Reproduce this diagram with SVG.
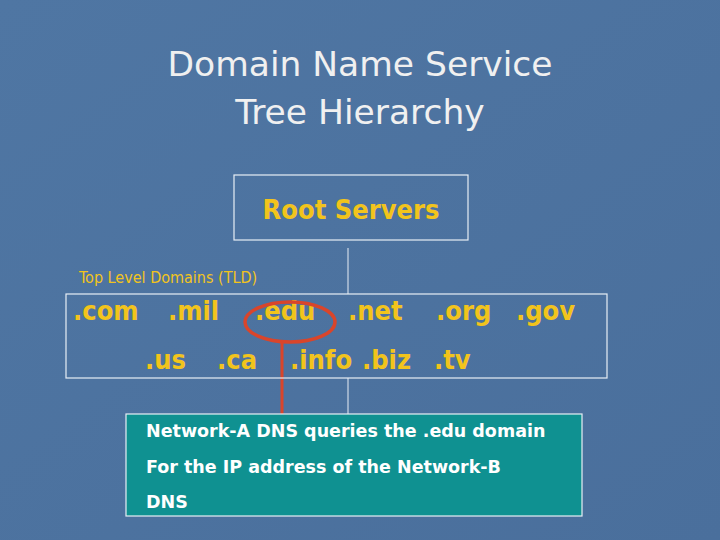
<svg xmlns="http://www.w3.org/2000/svg" width="720" height="540" viewBox="0 0 720 540">
<defs>
<linearGradient id="bg" x1="0" y1="0" x2="1" y2="1"><stop offset="0" stop-color="#4f76a3"/><stop offset="1" stop-color="#4a6f9c"/></linearGradient>
<style>
.t{font-family:"DejaVu Sans",sans-serif;fill:#f0f0f0;font-size:34.5px}
.y{font-family:"DejaVu Sans Condensed","DejaVu Sans",sans-serif;font-weight:bold;fill:#f2c41c;font-size:27px}
.w{font-family:"DejaVu Sans",sans-serif;font-weight:bold;fill:#ffffff;font-size:17.5px}
.box{fill:none;stroke:#e8eef5;stroke-width:1.2}
.ln{stroke:#e8eef5;stroke-width:1}
</style>
</defs>
<rect width="720" height="540" fill="url(#bg)"/>
<text class="t" x="360" y="76" text-anchor="middle">Domain Name Service</text>
<text class="t" x="360" y="124" text-anchor="middle">Tree Hierarchy</text>
<g id="connectors">
<line class="ln" x1="348" y1="248" x2="348" y2="294"/>
<line class="ln" x1="348" y1="378" x2="348" y2="414"/>
<line x1="282" y1="343" x2="282" y2="414" stroke="#d9452b" stroke-width="3"/>
</g>
<g id="root">
<rect class="box" x="234" y="175" width="234" height="65"/>
<text class="y" x="351" y="219" text-anchor="middle">Root Servers</text>
</g>
<g id="tld">
<text x="79" y="283" font-family="DejaVu Sans Condensed,DejaVu Sans,sans-serif" font-size="16" fill="#f2c41c">Top Level Domains (TLD)</text>
<rect class="box" x="66" y="294" width="541" height="84"/>
<text class="y" x="73" y="320">.com</text>
<text class="y" x="168" y="320">.mil</text>
<text class="y" x="255" y="320">.edu</text>
<text class="y" x="348" y="320">.net</text>
<text class="y" x="436" y="320">.org</text>
<text class="y" x="516" y="320">.gov</text>
<text class="y" x="145" y="369">.us</text>
<text class="y" x="217" y="369">.ca</text>
<text class="y" x="290" y="369">.info</text>
<text class="y" x="362" y="369">.biz</text>
<text class="y" x="434" y="369">.tv</text>
<ellipse cx="290" cy="322" rx="45" ry="20" fill="none" stroke="#d9452b" stroke-width="3.5"/>
</g>
<g id="query">
<rect x="126" y="414" width="456" height="102" fill="#0f9191" stroke="#e8eef5" stroke-width="1.2"/>
<text class="w" x="146" y="437">Network-A DNS  queries the .edu domain</text>
<text class="w" x="146" y="473">For the IP address of the Network-B</text>
<text class="w" x="146" y="508">DNS</text>
</g>
</svg>
